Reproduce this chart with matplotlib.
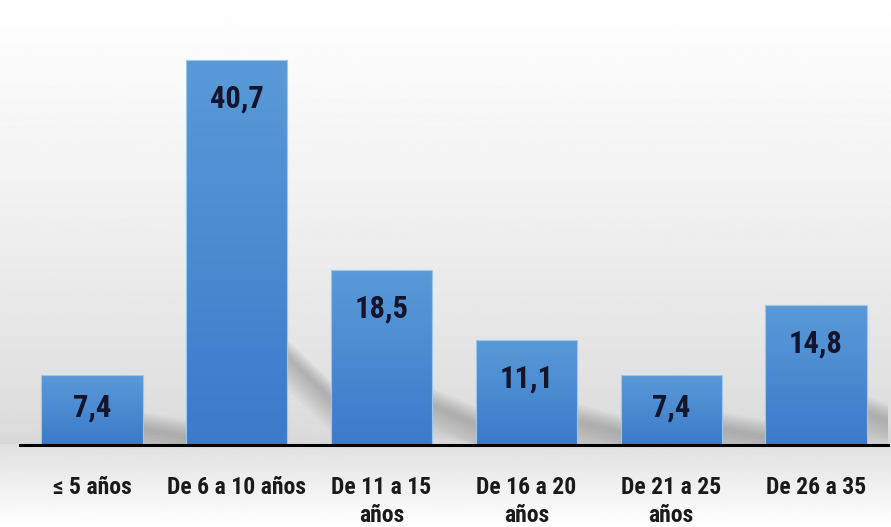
import numpy as np
import matplotlib
matplotlib.use("Agg")
import matplotlib.pyplot as plt
from matplotlib import font_manager
from matplotlib.colors import LinearSegmentedColormap
from matplotlib.patches import Polygon

categories = ["≤ 5 años", "De 6 a 10 años", "De 11 a 15\naños", "De 16 a 20\naños",
              "De 21 a 25\naños", "De 26 a 35"]
values = [7.4, 40.7, 18.5, 11.1, 7.4, 14.8]
value_labels = ["7,4", "40,7", "18,5", "11,1", "7,4", "14,8"]

installed = {f.name for f in font_manager.fontManager.ttflist}
family = "DejaVu Sans"
for name in ["Liberation Sans Narrow", "Roboto Condensed", "Lato"]:
    if name in installed:
        family = name
        break
plt.rcParams["font.family"] = [family, "DejaVu Sans"]

fig = plt.figure(figsize=(8.91, 5.27), dpi=100)

# background gradient over the whole figure
bg = fig.add_axes([0, 0, 1, 1], zorder=-10)
bg.set_axis_off()
ys = np.linspace(0, 1, 400)
base_frac = 82 / 527
col = np.where(ys > base_frac,
               0.85 + 0.15 * ((ys - base_frac) / (1 - base_frac)) ** 0.8,
               1.0 - 0.12 * (ys / base_frac))
img = np.repeat(col[:, None], 2, axis=1)
bg.imshow(img, cmap="gray", vmin=0, vmax=1, origin="lower", aspect="auto",
          extent=[0, 1, 0, 1])
bg.set_xlim(0, 1)
bg.set_ylim(0, 1)

ax = fig.add_axes([19.6 / 891, base_frac, 868.8 / 891, 1 - base_frac - 19 / 527])
ax.patch.set_alpha(0)
x = np.arange(len(values))
width = 0.70

bar_cmap = LinearSegmentedColormap.from_list("bar", ["#3a7bcb", "#5a9ad8"])
bars = ax.bar(x, values, width=width, color="none", edgecolor="#9cc8f0",
              linewidth=0.8, zorder=3)

for rect, v in zip(bars, values):
    x0 = rect.get_x()
    x1 = x0 + rect.get_width()
    # soft diagonal shadow band to the right of each bar
    start = 0.23 * v
    gap = 0.32
    for k in range(10):
        t = 0.4 + 0.35 * k
        shadow = Polygon([(x1, start + t * 0.5), (x1 + gap, start * 0.5 + t * 0.5),
                          (x1 + gap, max(start * 0.5 - t, 0)), (x1, max(start - t, 0))],
                         closed=True, facecolor="#505050", edgecolor="none",
                         alpha=0.035, zorder=1)
        ax.add_patch(shadow)
    grad = np.linspace(0, 1, 200)[:, None]
    im = ax.imshow(grad, cmap=bar_cmap, origin="lower", aspect="auto",
                   extent=[x0, x1, 0, v], zorder=2)
    im.set_clip_path(rect)

for xi, v, lab in zip(x, values, value_labels):
    off = -33 if v < 8 else -39
    ax.annotate(lab, (xi, v), xytext=(0, off * 0.72), textcoords="offset points",
                ha="center", va="center", fontsize=22, fontweight="bold",
                color="#14142a", zorder=5)

ax.set_xlim(-0.5, 5.5)
ax.set_ylim(0, 45)
ax.set_yticks([])
ax.set_xticks(x)
ax.set_xticklabels(categories, fontsize=17, fontweight="bold", color="#1a1a1a",
                   linespacing=1.3)
ax.tick_params(axis="x", length=0, pad=22)
for s in ["top", "left", "right"]:
    ax.spines[s].set_visible(False)
ax.spines["bottom"].set_color("black")
ax.spines["bottom"].set_linewidth(2.2)
ax.spines["bottom"].set_zorder(6)

fig.savefig("out.png", dpi=100)
